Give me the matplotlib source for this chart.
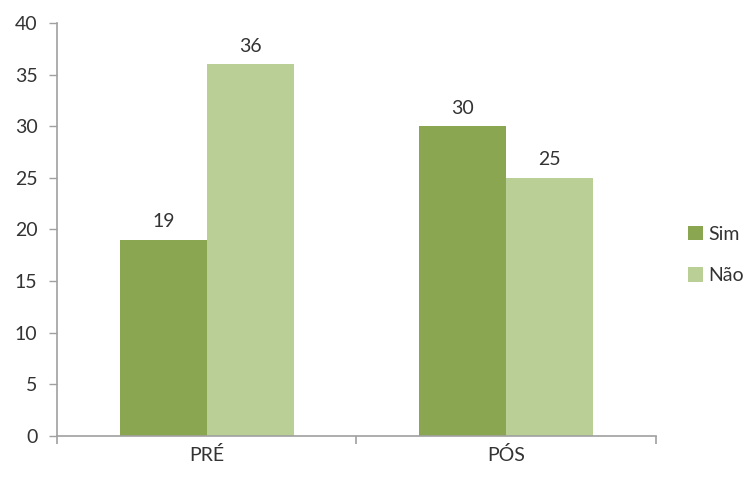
import matplotlib.pyplot as plt
import numpy as np

categories = ["PRÉ", "PÓS"]
series = ["Sim", "Não"]
sim = [19, 30]
nao = [36, 25]
colors = ["#8BA650", "#BACF96"]

plt.rcParams['font.family'] = ['Lato', 'DejaVu Sans']
text_color = "#333333"
fs = 14

fig = plt.figure(figsize=(7.44, 4.83), dpi=100)
ax = fig.add_axes([0.0766, 0.0973, 0.8051, 0.8551])

x = np.arange(len(categories))
w = 0.29
b1 = ax.bar(x - w / 2, sim, w, color=colors[0], label=series[0])
b2 = ax.bar(x + w / 2, nao, w, color=colors[1], label=series[1])

for bars in (b1, b2):
    for rect in bars:
        h = rect.get_height()
        ax.annotate(f"{h:g}", (rect.get_x() + rect.get_width() / 2, h),
                    xytext=(0, 7), textcoords="offset points",
                    ha="center", va="bottom", fontsize=fs, color=text_color)

ax.set_xlim(-0.5, len(categories) - 0.5)
ax.set_ylim(0, 40)
ax.set_yticks(range(0, 41, 5))
ax.set_xticks(x)
ax.set_xticklabels(categories)
ax.set_xticks(np.arange(-0.5, len(categories), 1), minor=True)

for s in ["top", "right"]:
    ax.spines[s].set_visible(False)
for s in ["left", "bottom"]:
    ax.spines[s].set_color("#A0A0A0")
    ax.spines[s].set_linewidth(1.2)

ax.tick_params(axis="y", length=6, width=1, color="#A0A0A0", labelsize=fs,
               labelcolor=text_color, pad=8)
ax.tick_params(axis="x", which="major", length=0, labelsize=fs,
               labelcolor=text_color, pad=7)
ax.tick_params(axis="x", which="minor", length=6, width=1.2, color="#A0A0A0")

fig.legend(handles=[b1, b2], labels=series, loc="center left",
           bbox_to_anchor=(0.925, 0.472), frameon=False, fontsize=fs,
           borderpad=0, borderaxespad=0,
           handlelength=0.75, handleheight=0.75, handletextpad=0.3,
           labelspacing=1.25, labelcolor=text_color)

fig.savefig("out.png", dpi=100)
